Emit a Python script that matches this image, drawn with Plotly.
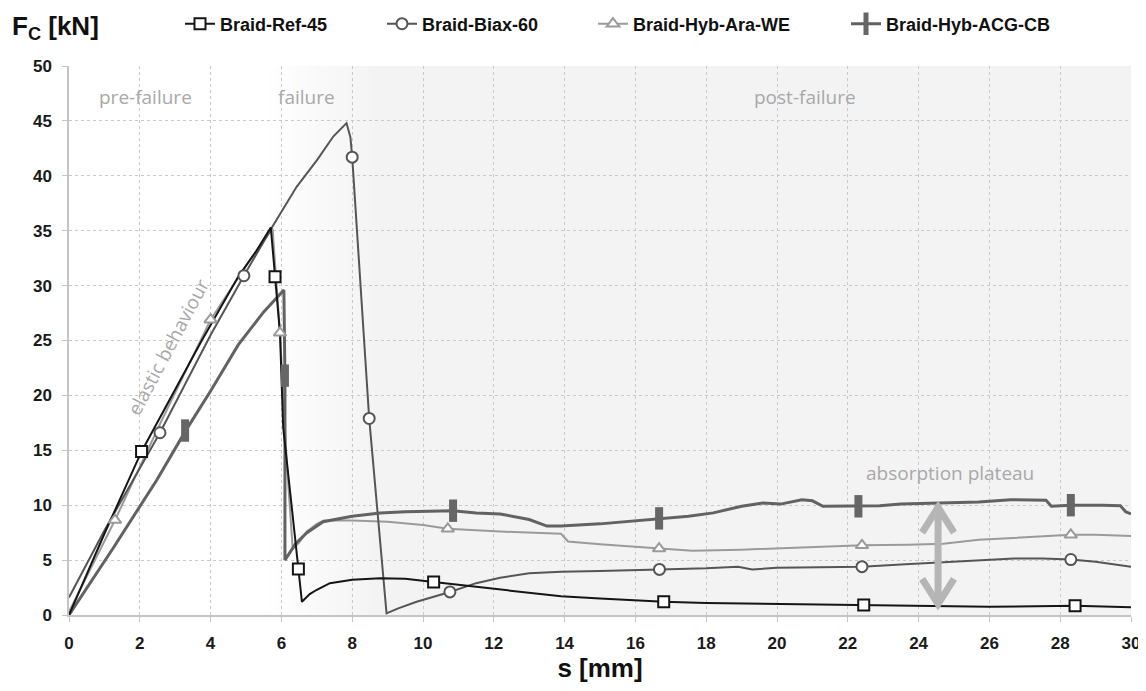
import plotly.graph_objects as go

# ---------------- data ----------------
ref_s = [0, 1.0, 2.05, 3.0, 3.75, 4.78, 5.3, 5.70, 5.82, 5.96, 6.05, 6.48, 6.58, 6.8, 7.0, 7.37, 8.0, 8.79,
         9.5, 10.3, 11.0, 12.18, 13.0, 13.9, 15.0, 16.8, 18.0, 20.0, 22.45, 24.8, 26.0, 28.42, 30]
ref_f = [0, 7.4, 14.9, 20.6, 25.0, 30.8, 33.2, 35.3, 30.8, 25.7, 17.1, 4.2, 1.2, 1.9, 2.3, 2.9, 3.2, 3.35,
         3.3, 3.0, 2.75, 2.3, 2.0, 1.7, 1.5, 1.2, 1.1, 1.0, 0.9, 0.78, 0.75, 0.85, 0.7]
ref_ms = [2.05, 5.82, 6.48, 10.3, 16.8, 22.45, 28.42]
ref_mf = [14.9, 30.8, 4.2, 3.0, 1.2, 0.9, 0.85]

biax_s = [0, 1.0, 2.57, 4.0, 4.94, 5.77, 6.43, 7.0, 7.47, 7.84, 7.95, 8.0, 8.48, 8.97, 9.3, 9.82, 10.76,
          11.5, 12.18, 13.0, 13.9, 15.0, 16.68, 18.0, 18.9, 19.3, 20.0, 21.0, 22.4, 23.5, 24.7, 26.0,
          26.7, 27.5, 28.3, 29.0, 30]
biax_f = [1.6, 7.7, 16.6, 25.5, 30.9, 35.5, 39.0, 41.4, 43.6, 44.8, 43.5, 41.7, 17.9, 0.15, 0.6, 1.2, 2.1,
          2.9, 3.4, 3.8, 3.95, 4.0, 4.15, 4.25, 4.4, 4.15, 4.3, 4.35, 4.4, 4.6, 4.8, 5.0,
          5.15, 5.15, 5.05, 4.85, 4.4]
biax_ms = [2.57, 4.94, 8.0, 8.48, 10.76, 16.68, 22.4, 28.3]
biax_mf = [16.6, 30.9, 41.7, 17.9, 2.1, 4.15, 4.4, 5.05]

ara_s = [0, 1.3, 2.6, 4.0, 5.0, 5.75, 5.96, 6.15, 6.32, 6.5, 6.72, 7.0, 7.2, 8.0, 9.0, 10.0, 10.7, 12.18,
         13.9, 14.1, 15.0, 16.67, 17.6, 19.0, 20.5, 22.4, 23.7, 24.7, 25.7, 27.0, 28.3, 29.0, 30]
ara_f = [0.3, 8.65, 17.6, 26.9, 31.8, 35.2, 25.7, 14.0, 6.0, 6.6, 7.6, 8.3, 8.6, 8.6, 8.5, 8.2, 7.85, 7.6,
         7.4, 6.7, 6.45, 6.05, 5.85, 5.95, 6.15, 6.35, 6.4, 6.5, 6.85, 7.1, 7.3, 7.3, 7.2]
ara_ms = [1.3, 4.0, 5.96, 10.7, 16.67, 22.4, 28.3]
ara_mf = [8.65, 26.9, 25.7, 7.85, 6.05, 6.35, 7.3]

acg_s = [0, 1.25, 2.48, 3.28, 4.0, 4.78, 5.5, 6.07, 6.1, 6.1, 6.4, 6.72, 7.18, 8.0, 8.79, 9.5, 10.85,
         11.5, 12.18, 13.0, 13.5, 13.9, 15.0, 16.67, 17.5, 18.2, 19.0, 19.6, 20.1, 20.7, 21.0, 21.3,
         22.3, 22.9, 23.5, 24.7, 25.7, 26.6, 27.4, 27.6, 27.75, 28.3, 29.2, 29.7, 29.85, 30]
acg_f = [0, 6.1, 12.3, 16.7, 20.4, 24.6, 27.6, 29.6, 21.8, 5.0, 6.5, 7.5, 8.5, 9.0, 9.3, 9.4, 9.5,
         9.3, 9.2, 8.7, 8.1, 8.1, 8.3, 8.8, 9.0, 9.3, 9.9, 10.2, 10.1, 10.5, 10.4, 9.9,
         9.9, 9.95, 10.1, 10.2, 10.3, 10.5, 10.5, 10.45, 9.9, 10.0, 10.0, 9.95, 9.4, 9.2]
acg_ms = [3.28, 6.1, 10.85, 16.67, 22.3, 28.3]
acg_mf = [16.8, 21.8, 9.5, 8.8, 9.9, 10.0]

series_names = ["Braid-Ref-45", "Braid-Biax-60", "Braid-Hyb-Ara-WE", "Braid-Hyb-ACG-CB"]
x_ticks = list(range(0, 31, 2))
y_ticks = list(range(0, 51, 5))

# absorption plateau arrow (s position, lower and upper force level)
arrow_s = 24.55
arrow_lo, arrow_hi = 1.0, 9.8

# ---------------- figure ----------------
BOLD = "Liberation Sans"
GRAYTXT = "#a8a8a8"

# the page body adds an 8 px offset; size the figure so it ends at the window edge
FIG_W, FIG_H = 1138, 683
ML, MR, MT, MB = 61, 15, 58, 76
PLOT_L, PLOT_T, PLOT_W, PLOT_H = 69, 66, 1062, 549   # plot area in window pixels

fig = go.Figure()

styles = {
    "Braid-Ref-45": dict(s=ref_s, f=ref_f, ms=ref_ms, mf=ref_mf, color="#151515", width=2,
                         marker=dict(symbol="square", size=11, color="white",
                                     line=dict(color="#151515", width=2)), legend="legend"),
    "Braid-Biax-60": dict(s=biax_s, f=biax_f, ms=biax_ms, mf=biax_mf, color="#555555", width=2,
                          marker=dict(symbol="circle", size=11, color="white",
                                      line=dict(color="#555555", width=2)), legend="legend2"),
    "Braid-Hyb-Ara-WE": dict(s=ara_s, f=ara_f, ms=ara_ms, mf=ara_mf, color="#9a9a9a", width=2,
                             marker=dict(symbol="triangle-up", size=11, color="white",
                                         line=dict(color="#9a9a9a", width=2)), legend="legend3"),
    "Braid-Hyb-ACG-CB": dict(s=acg_s, f=acg_f, ms=acg_ms, mf=acg_mf, color="#626262", width=3,
                             marker=dict(symbol="line-ns", size=16, color="#666666",
                                         line=dict(color="#666666", width=8)), legend="legend4"),
}

draw_order = ["Braid-Hyb-Ara-WE", "Braid-Biax-60", "Braid-Hyb-ACG-CB", "Braid-Ref-45"]
for name in draw_order:
    st = styles[name]
    fig.add_trace(go.Scatter(x=st["s"], y=st["f"], mode="lines", showlegend=False,
                             line=dict(color=st["color"], width=st["width"]), hoverinfo="skip"))
for name in draw_order:
    st = styles[name]
    fig.add_trace(go.Scatter(x=st["ms"], y=st["mf"], mode="markers", showlegend=False,
                             marker=st["marker"], name=name))
# legend entries
for name in series_names:
    st = styles[name]
    fig.add_trace(go.Scatter(x=[None], y=[None], mode="lines+markers", name=name,
                             line=dict(color=st["color"], width=st["width"]),
                             marker=st["marker"], legend=st["legend"]))

# shaded failure / post-failure background (gradient approximated by bands)
n_steps = 18
g0, g1 = 5.5, 8.8
for i in range(n_steps):
    a = g0 + (g1 - g0) * i / n_steps
    b = g0 + (g1 - g0) * (i + 1) / n_steps
    v = int(round(255 - (255 - 243) * (i + 0.5) / n_steps))
    fig.add_shape(type="rect", xref="x", yref="paper", x0=a, x1=b + 0.01, y0=0, y1=1,
                  fillcolor=f"rgb({v},{v},{v})", line=dict(width=0), layer="below")
fig.add_shape(type="rect", xref="x", yref="paper", x0=g1, x1=30, y0=0, y1=1,
              fillcolor="rgb(243,243,243)", line=dict(width=0), layer="below")

# double arrow of the absorption plateau (shaft + two open chevron heads)
AC = "#b5b5b5"
hw, hh = 0.45, 2.3   # chevron half-width [mm], height [kN]
fig.add_shape(type="line", xref="x", yref="y", x0=arrow_s, x1=arrow_s, y0=arrow_lo + 0.4,
              y1=arrow_hi - 0.4, line=dict(color=AC, width=7))
fig.add_shape(type="path", xref="x", yref="y",
              path=f"M {arrow_s - hw},{arrow_hi - hh} L {arrow_s},{arrow_hi} L {arrow_s + hw},{arrow_hi - hh}",
              line=dict(color=AC, width=7))
fig.add_shape(type="path", xref="x", yref="y",
              path=f"M {arrow_s - hw},{arrow_lo + hh} L {arrow_s},{arrow_lo} L {arrow_s + hw},{arrow_lo + hh}",
              line=dict(color=AC, width=7))

# region labels
for txt, xx in [("pre-failure", 2.15), ("failure", 6.72), ("post-failure", 20.8)]:
    fig.add_annotation(x=xx, y=47.2, xref="x", yref="y", text=txt, showarrow=False,
                       font=dict(family="Open Sans", size=19, color=GRAYTXT))
fig.add_annotation(x=2.8, y=24.4, xref="x", yref="y", text="elastic behaviour", showarrow=False,
                   textangle=-62, font=dict(family="Open Sans", size=19, color=GRAYTXT))
fig.add_annotation(x=24.9, y=12.9, xref="x", yref="y", text="absorption plateau", showarrow=False,
                   font=dict(family="Open Sans", size=19, color=GRAYTXT))

# y-axis title (horizontal, top-left)
fig.add_annotation(x=(10 - PLOT_L) / PLOT_W, y=(PLOT_T + PLOT_H - 9) / PLOT_H, xref="paper", yref="paper",
                   xanchor="left", yanchor="top",
                   text="F<sub>C</sub> [kN]", showarrow=False,
                   font=dict(family=BOLD, size=26, color="#111111", weight="bold"))

legend_common = dict(orientation="h", yanchor="middle", xanchor="left", bgcolor="rgba(0,0,0,0)",
                     font=dict(family=BOLD, size=18, color="#111111", weight="bold"),
                     itemwidth=30, borderwidth=0)
legend_px = [180, 382, 593, 846]
layout_legends = {}
for i, px in enumerate(legend_px):
    key = "legend" if i == 0 else f"legend{i+1}"
    layout_legends[key] = dict(legend_common, x=(px - PLOT_L) / PLOT_W,
                               y=(PLOT_T + PLOT_H - 24) / PLOT_H)

fig.update_layout(
    width=FIG_W, height=FIG_H,
    margin=dict(l=ML, r=MR, t=MT, b=MB, autoexpand=False),
    paper_bgcolor="white", plot_bgcolor="white",
    showlegend=True,
    **layout_legends,
    xaxis=dict(range=[0, 30], tickmode="array", tickvals=x_ticks, ticktext=[str(t) for t in x_ticks],
               showgrid=True, gridcolor="#c9c9c9", griddash="dot", gridwidth=1, automargin=False,
               showline=True, linecolor="#c4c4c4", linewidth=1.5, ticks="outside", ticklen=5,
               tickcolor="#c4c4c4", zeroline=False, ticklabelstandoff=7,
               tickfont=dict(family=BOLD, size=17, color="#1a1a1a", weight="bold"),
               title=dict(text="s [mm]", standoff=5,
                          font=dict(family=BOLD, size=26, color="#111111", weight="bold"))),
    yaxis=dict(range=[0, 50], tickmode="array", tickvals=y_ticks, ticktext=[str(t) for t in y_ticks],
               showgrid=True, gridcolor="#c9c9c9", griddash="dot", gridwidth=1, automargin=False,
               showline=True, linecolor="#c4c4c4", linewidth=1.5, ticks="outside", ticklen=5,
               tickcolor="#c4c4c4", zeroline=False, ticklabelstandoff=7,
               tickfont=dict(family=BOLD, size=17, color="#1a1a1a", weight="bold")),
)

fig.write_html("out.html")
